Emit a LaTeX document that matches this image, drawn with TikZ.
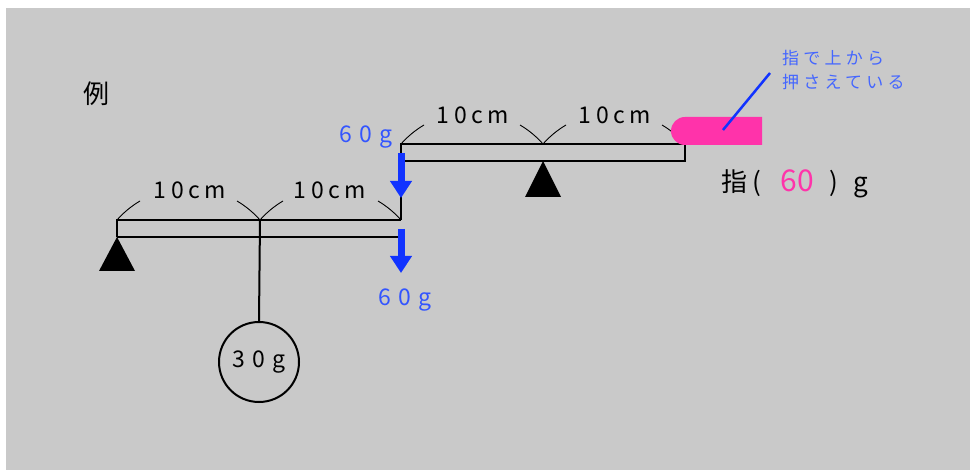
\documentclass[tikz,border=0pt]{standalone}
\usepackage{fontspec}
\setmainfont{Noto Sans CJK JP}
\usetikzlibrary{arrows.meta,calc}
\definecolor{bg}{RGB}{201,201,201}
\definecolor{arrowblue}{RGB}{17,51,255}
\definecolor{textblue}{RGB}{51,85,255}
\definecolor{notblue}{RGB}{68,102,255}
\definecolor{fpink}{RGB}{255,51,170}
\tikzset{
  beam/.style={line width=2pt,black},
  arcline/.style={line width=0.9pt,black},
  force/.style={line width=7pt,arrowblue,-{Triangle[width=21pt,length=17pt]}},
  lenlabel/.style={font=\fontsize{23}{23}\selectfont\addfontfeature{LetterSpace=20},inner sep=0pt},
  glabel/.style={font=\fontsize{23}{23}\selectfont\addfontfeature{LetterSpace=30},text=textblue,inner sep=0pt},
  note/.style={font=\fontsize{17}{17}\selectfont\addfontfeature{LetterSpace=25},text=notblue,inner sep=0pt,anchor=west},
}
\newcommand\spanarc[2]{%
  \draw[arcline] (#1) .. controls ($(#1)+(6.6,-7.5)$) and ($(#1)+(14.4,-13.9)$) .. ($(#1)+(23,-19)$);
  \draw[arcline] (#2) .. controls ($(#2)+(-6.6,-7.5)$) and ($(#2)+(-14.4,-13.9)$) .. ($(#2)+(-23,-19)$);
}
\begin{document}
\begin{tikzpicture}[x=1pt,y=-1pt]
\useasboundingbox (0,0) rectangle (970,470);
\fill[white] (0,0) rectangle (970,470);
\fill[bg] (6,8) rectangle (970,470);
% coordinates
\coordinate (L1) at (117,220);
\coordinate (L2) at (260,220);
\coordinate (L3) at (401,220);
\coordinate (U1) at (401,144);
\coordinate (U2) at (543,144);
\coordinate (U3) at (685,144);
% arcs
\spanarc{L1}{L2}
\spanarc{L2}{L3}
\spanarc{U1}{U2}
\spanarc{U2}{U3}
% lower beam
\draw[beam] (117,237) -- (117,220) -- (401,220);
\draw[beam] (117,237) -- (401,237);
% upper beam
\draw[beam] (401,144) rectangle (685,161);
\draw[beam] (U1) -- (L3);
% fulcrums
\fill[black] (117,237) -- (135,271) -- (99,271) -- cycle;
\fill[black] (543,161) -- (561,197) -- (525,197) -- cycle;
% weight
\node[draw,line width=2pt,circle,minimum size=80pt,inner sep=0pt,font=\fontsize{23}{23}\selectfont\addfontfeature{LetterSpace=30}] (W) at (259,362) {30g};
\draw[beam] (L2) -- (W.north);
% forces
\coordinate (F1s) at (401,153);
\coordinate (F1e) at (401,198);
\coordinate (F2s) at (401,229);
\coordinate (F2e) at (401,273);
\draw[force] (F1s) -- (F1e);
\draw[force] (F2s) -- (F2e);
% finger
\fill[fpink] (762,117) -- (685,117) arc[start angle=270,end angle=90,radius=14] -- (762,145) -- cycle;
\coordinate (P1) at (723,130);
\coordinate (P2) at (770,73);
\draw[line width=2.5pt,arrowblue] (P1) -- (P2);
% labels
\node[lenlabel] (t1) at (190,190) {10cm};
\node[lenlabel] (t2) at (330,190) {10cm};
\node[lenlabel] (t3) at (473,115) {10cm};
\node[lenlabel] (t4) at (615,115) {10cm};
\node[glabel] (g1) at (366,137) {60g};
\node[glabel] (g2) at (405,300) {60g};
\node[inner sep=0pt,font=\fontsize{26}{26}\selectfont] (rei) at (96,94) {例};
\node[note] (n1) at (782,58) {指で上から};
\node[note] (n2) at (782,82) {押さえている};
\node[inner sep=0pt,anchor=west,font=\fontsize{26}{26}\selectfont] (ans) at (721,184) {指\hspace{5pt}(\hspace{20pt}\textcolor{fpink}{\fontsize{30}{30}\selectfont 60}\hspace{15pt})\hspace{15pt}g};
\end{tikzpicture}
\end{document}
